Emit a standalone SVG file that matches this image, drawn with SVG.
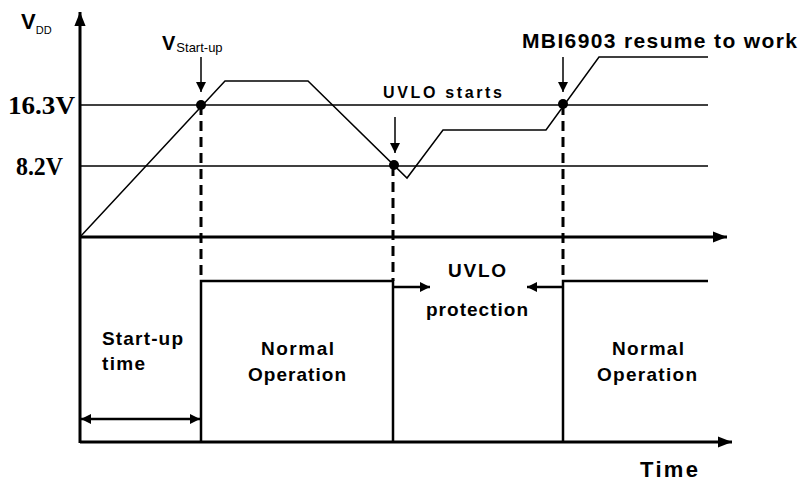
<svg xmlns="http://www.w3.org/2000/svg" width="799" height="483" viewBox="0 0 799 483">
<style>
.ax{stroke:#000;stroke-width:3;fill:none}
.thin{stroke:#000;stroke-width:1.5;fill:none}
.step{stroke:#000;stroke-width:2.5;fill:none}
.dash{stroke:#000;stroke-width:3;fill:none;stroke-dasharray:10,6}
.lbl{font-family:"Liberation Sans",Arial,sans-serif;font-weight:bold;fill:#000}
.ser{font-family:"Liberation Serif","Times New Roman",serif;font-weight:bold;fill:#000}
</style>
<defs>
<marker id="ah" viewBox="0 0 10 10" refX="10" refY="5" markerWidth="10" markerHeight="10" markerUnits="userSpaceOnUse" orient="auto-start-reverse">
<path d="M0,0 L10,5 L0,10 z" fill="#000"/>
</marker>
<marker id="ahb" viewBox="0 0 10 10" refX="10" refY="5" markerWidth="14" markerHeight="14" markerUnits="userSpaceOnUse" orient="auto-start-reverse">
<path d="M0,1 L10,5 L0,9 z" fill="#000"/>
</marker>
</defs>
<rect width="799" height="483" fill="#fff"/>
<g id="connectors">
<line class="ax" x1="80" y1="443" x2="80" y2="12" marker-end="url(#ahb)"/>
<line class="ax" x1="80" y1="442" x2="732" y2="442" marker-end="url(#ahb)"/>
<line class="ax" x1="80" y1="237" x2="727" y2="237" marker-end="url(#ahb)"/>
<line class="thin" x1="80" y1="105" x2="708" y2="105"/>
<line class="thin" x1="80" y1="166" x2="708" y2="166"/>
<polyline class="thin" points="80,237 225,81 308,81 407,178 443,130 546,130 599,57 708,57"/>
<line class="dash" x1="201" y1="105" x2="201" y2="281"/>
<line class="dash" x1="393" y1="166" x2="393" y2="281"/>
<line class="dash" x1="563" y1="105" x2="563" y2="281"/>
<polyline class="step" points="201,442 201,281 393,281 393,442"/>
<polyline class="step" points="563,442 563,281 708,281"/>
<line class="thin" x1="201" y1="57" x2="201" y2="92" marker-end="url(#ah)"/>
<line class="thin" x1="395" y1="117" x2="395" y2="153" marker-end="url(#ah)"/>
<line class="thin" x1="563" y1="57" x2="563" y2="92" marker-end="url(#ah)"/>
<line class="step" x1="394" y1="287" x2="430" y2="287" marker-end="url(#ah)"/>
<line class="step" x1="563" y1="287" x2="527" y2="287" marker-end="url(#ah)"/>
<line class="step" x1="81" y1="419" x2="200" y2="419" marker-start="url(#ah)" marker-end="url(#ah)"/>
<circle cx="201" cy="105" r="5" fill="#000"/>
<circle cx="394" cy="165" r="5" fill="#000"/>
<circle cx="563" cy="104" r="5" fill="#000"/>
</g>
<g id="vdd"><text class="lbl" x="21" y="29" font-size="22">V<tspan font-size="11" font-weight="normal" dy="5">DD</tspan></text></g>
<g id="vstart"><text class="lbl" x="162" y="50" font-size="20">V<tspan font-size="13" font-weight="normal" dx="1" dy="2">Start-up</tspan></text></g>
<g id="v163"><text class="ser" x="8" y="114" font-size="26" textLength="67" lengthAdjust="spacingAndGlyphs">16.3V</text></g>
<g id="v82"><text class="ser" x="16" y="175" font-size="25" textLength="47" lengthAdjust="spacingAndGlyphs">8.2V</text></g>
<g id="uvlostarts"><text class="lbl" x="383" y="98" font-size="16" textLength="119" lengthAdjust="spacing">UVLO starts</text></g>
<g id="mbi"><text class="lbl" x="522" y="48" font-size="21" textLength="275" lengthAdjust="spacing">MBI6903 resume to work</text></g>
<g id="uvloprot"><text class="lbl" x="448" y="277" font-size="19" textLength="58" lengthAdjust="spacing">UVLO</text><text class="lbl" x="426" y="316" font-size="19" textLength="102" lengthAdjust="spacing">protection</text></g>
<g id="startup"><text class="lbl" x="102" y="345" font-size="19" textLength="81" lengthAdjust="spacing">Start-up</text><text class="lbl" x="102" y="370" font-size="19" textLength="43" lengthAdjust="spacing">time</text></g>
<g id="normal1"><text class="lbl" x="261" y="355" font-size="19" textLength="73" lengthAdjust="spacing">Normal</text><text class="lbl" x="248" y="381" font-size="19" textLength="98" lengthAdjust="spacing">Operation</text></g>
<g id="normal2"><text class="lbl" x="612" y="355" font-size="19" textLength="72" lengthAdjust="spacing">Normal</text><text class="lbl" x="597" y="381" font-size="19" textLength="100" lengthAdjust="spacing">Operation</text></g>
<g id="time"><text class="lbl" x="640" y="477" font-size="22" textLength="58" lengthAdjust="spacing">Time</text></g>
</svg>
